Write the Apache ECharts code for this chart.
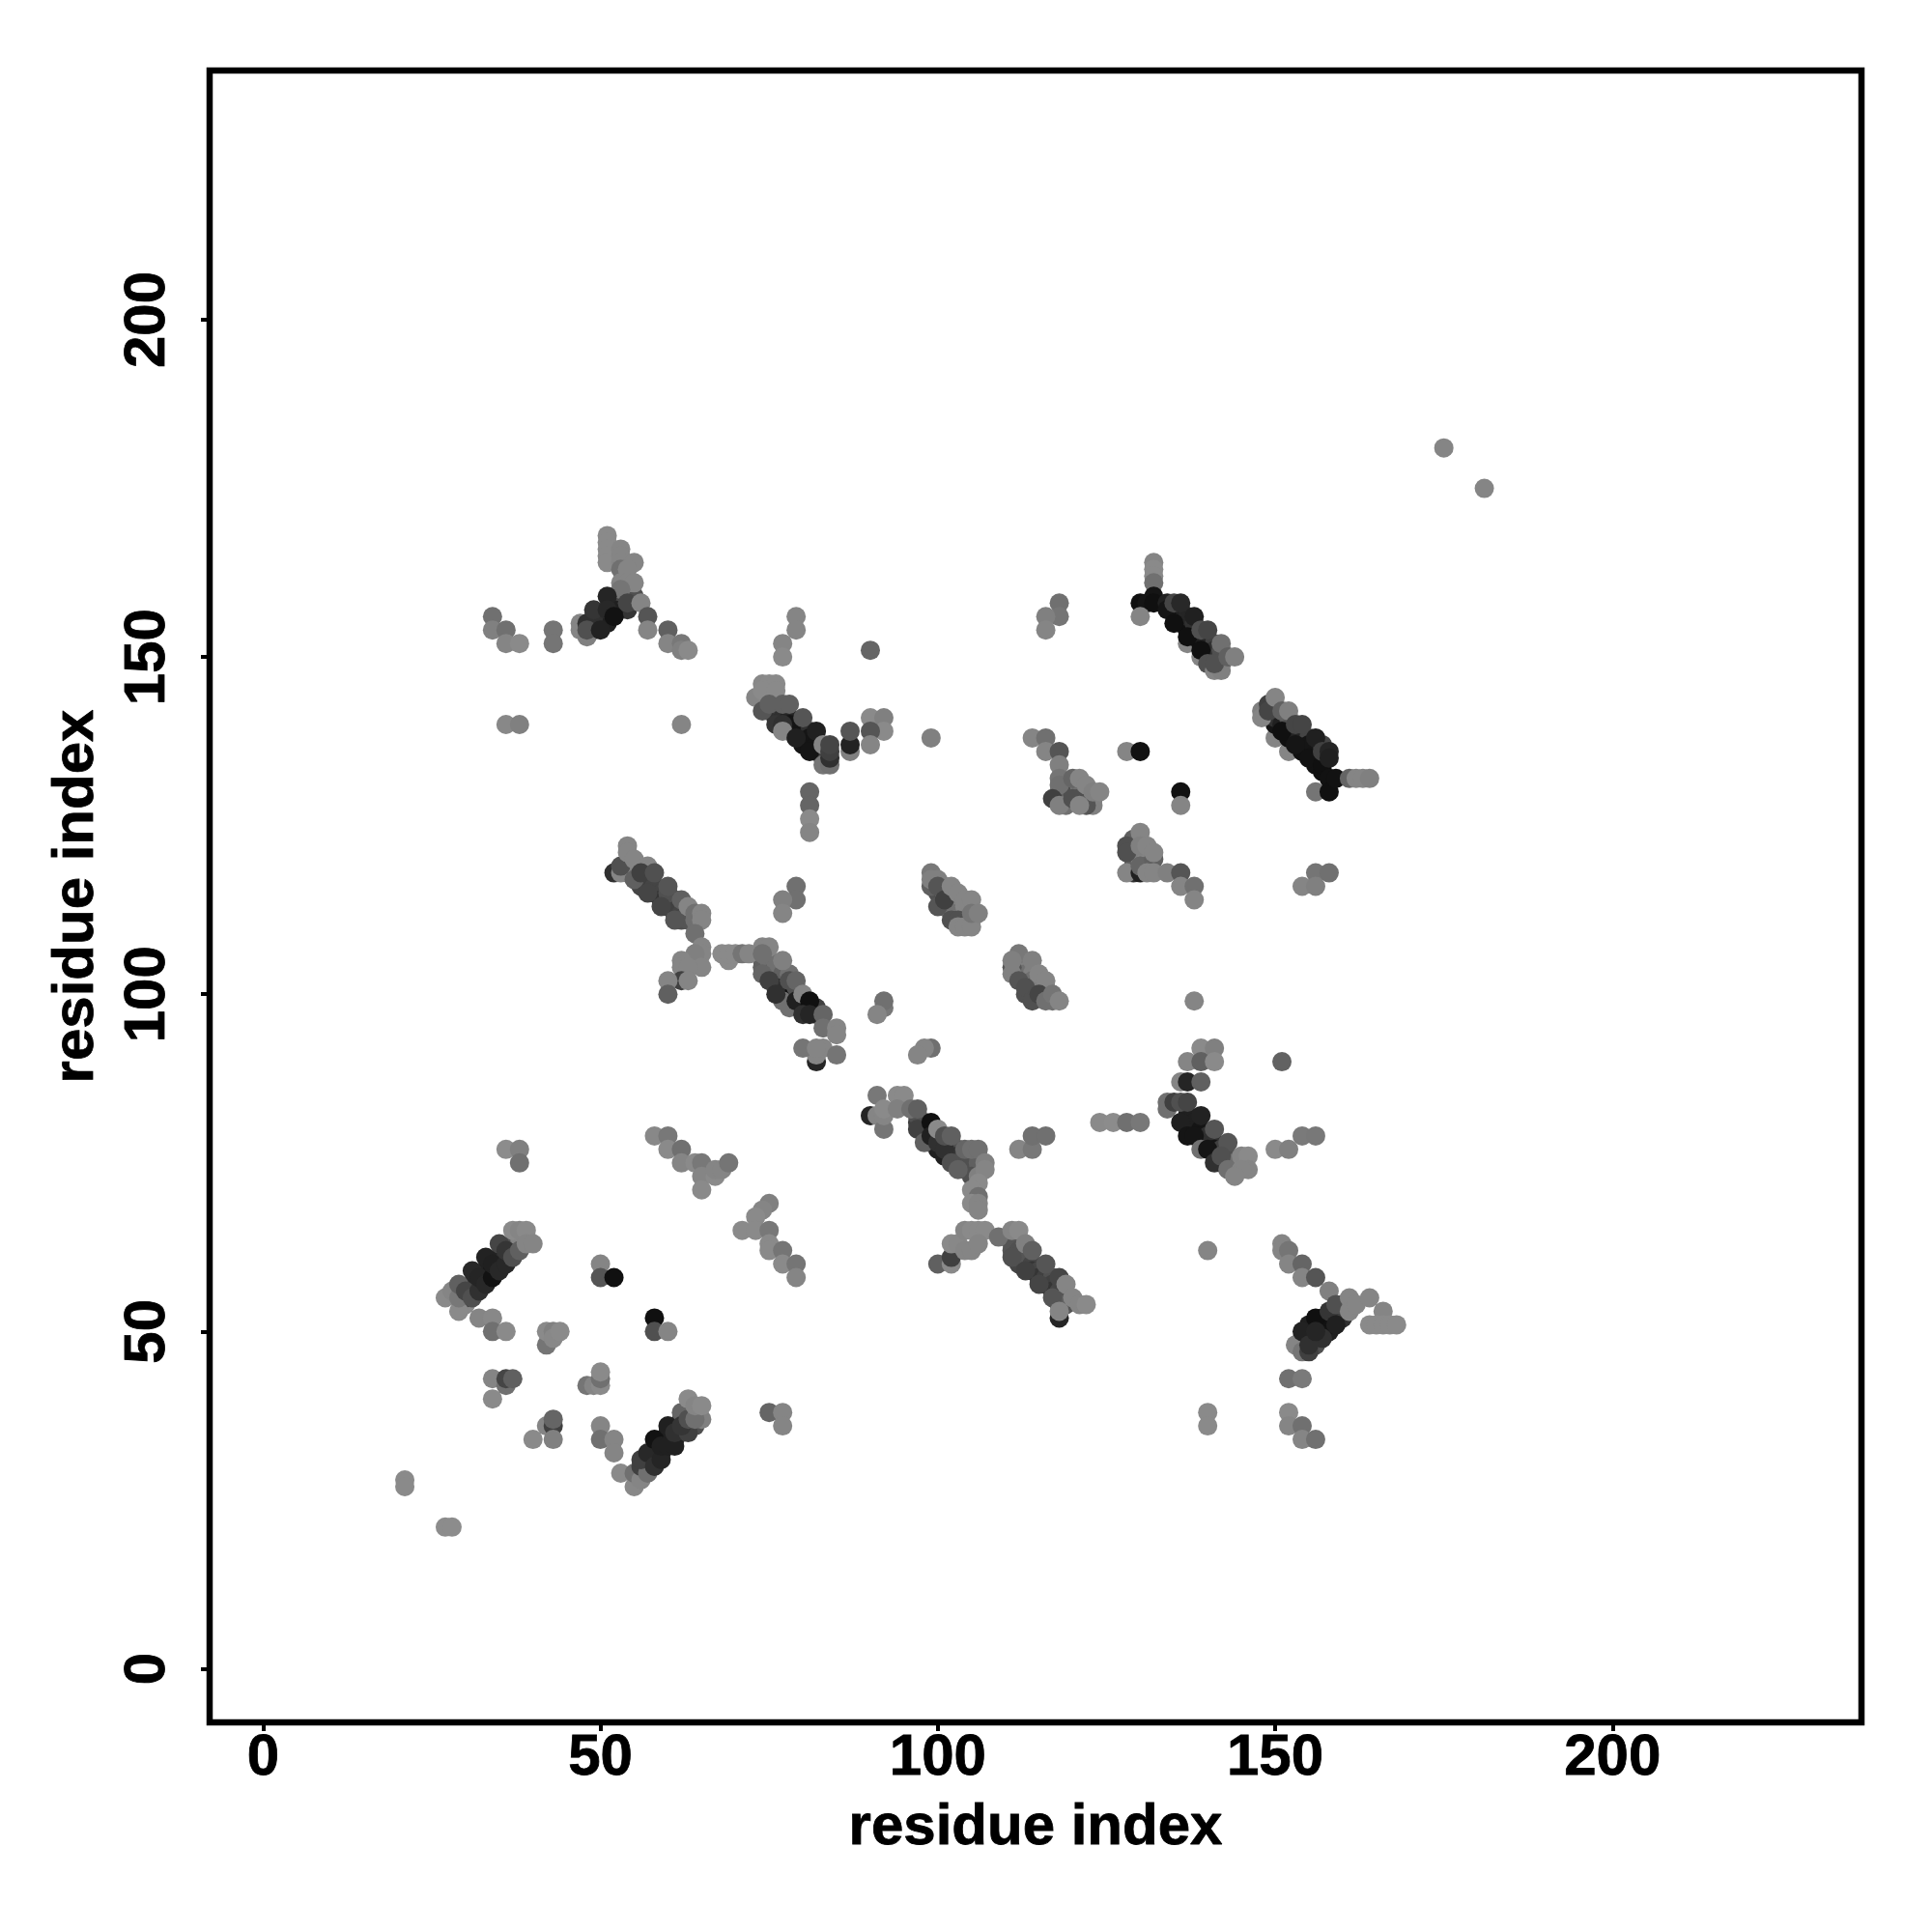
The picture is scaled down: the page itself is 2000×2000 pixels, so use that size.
<!DOCTYPE html>
<html><head><meta charset="utf-8">
<script src="https://cdn.jsdelivr.net/npm/echarts@6/dist/echarts.min.js"></script>
<style>html,body{margin:0;padding:0;background:#fff}#c{width:2000px;height:2000px}</style>
</head><body><div id="c"></div>
<script>
// each contact: [residue i, residue j, grey level 0-255]
const tickValues=[0,50,100,150,200];
const axisTitle="residue index";
const coreA=[[30,54,0x8a],[30,55,0x40],[31,56,0x30],[31,57,0x28],[32,57,0x25],[33,58,0x20],[33,59,0x22],[34,59,0x18],[35,60,0x20],[35,61,0x25],[36,61,0x30],[37,62,0x40],[37,63,0x55],[38,63,0x70],[38,64,0x85],[39,64,0x85]];
const sheetA=[[27,55,0x8a],[28,56,0x85],[29,53,0x8a],[29,55,0x78],[29,57,0x60],[30,56,0x45],[31,59,0x28],[31,55,0x50],[32,56,0x30],[32,58,0x25],[33,61,0x22],[33,57,0x28],[34,58,0x12],[34,60,0x20],[35,63,0x45],[35,59,0x28],[36,60,0x28],[36,62,0x35],[37,61,0x50],[38,62,0x60],[37,65,0x8a],[38,65,0x85],[39,65,0x8a],[39,63,0x85],[40,63,0x85]];
const smallLowLeft=[[36,77,0x8c],[38,77,0x80],[38,75,0x70],[32,52,0x85],[34,52,0x88],[34,50,0x70],[36,50,0x8a],[42,48,0x75],[42,50,0x8a],[43,50,0x80],[43,49,0x88],[44,50,0x8a],[50,60,0x85],[50,58,0x55],[52,58,0x10],[58,52,0x10],[58,50,0x50],[60,50,0x85],[34,43,0x85],[36,42,0x70],[36,43,0x45],[37,43,0x60],[34,40,0x8a],[48,42,0x75],[49,42,0x85],[50,42,0x8a],[50,43,0x70],[50,44,0x8a],[40,34,0x8a],[42,36,0x85],[43,36,0x40],[43,37,0x65],[43,34,0x80],[50,36,0x85],[50,34,0x70],[52,34,0x85],[52,32,0x85],[75,38,0x65],[77,38,0x85],[77,36,0x85],[21,28,0x8a],[21,27,0x8a],[27,21,0x8c],[28,21,0x8c]];
const coreB=[[57,30,0x40],[57,31,0x30],[58,31,0x25],[58,32,0x25],[59,32,0x20],[60,34,0x20],[60,35,0x20],[61,34,0x20],[62,35,0x30],[62,37,0x40],[63,36,0x35],[63,38,0x50],[64,36,0x50],[64,38,0x60]];
const sheetB=[[53,29,0x8a],[55,27,0x88],[55,29,0x70],[56,28,0x85],[56,30,0x40],[57,29,0x70],[56,31,0x40],[57,32,0x28],[58,30,0x30],[59,31,0x25],[58,34,0x12],[59,33,0x20],[60,33,0x20],[60,36,0x20],[61,33,0x20],[61,35,0x30],[62,38,0x65],[63,35,0x40],[62,36,0x35],[65,37,0x80],[63,37,0x50],[64,37,0x70],[63,40,0x8a],[64,39,0x85],[65,39,0x8a]];
const midLeft=[[58,79,0x88],[60,79,0x78],[60,77,0x8a],[62,77,0x70],[62,75,0x85],[64,75,0x8a],[65,75,0x78],[65,73,0x85],[65,71,0x8a],[67,73,0x8a],[67,74,0x85],[68,74,0x85],[69,75,0x75],[75,69,0x80],[74,68,0x85],[73,67,0x8a],[71,65,0x8a],[73,65,0x8a],[75,65,0x78],[75,63,0x8a],[75,62,0x8a],[77,62,0x75],[77,60,0x8a],[79,60,0x75],[79,58,0x85]];
const coreC=[[97,81,0x40],[97,82,0x50],[98,80,0x30],[98,81,0x50],[99,78,0x20],[100,77,0x20],[101,76,0x20],[102,76,0x25],[102,77,0x25],[103,75,0x25],[104,75,0x30],[104,74,0x40],[105,74,0x40],[105,75,0x50],[103,77,0x50],[103,76,0x35],[104,76,0x50],[106,75,0x60],[105,73,0x50]];
const helixC=[[91,85,0x78],[94,85,0x8a],[95,85,0x8a],[90,82,0x25],[91,82,0x85],[92,80,0x75],[92,82,0x85],[92,83,0x8a],[94,83,0x80],[96,83,0x70],[97,83,0x60],[97,80,0x40],[98,78,0x60],[99,81,0x10],[99,79,0x20],[100,78,0x30],[100,80,0x8a],[101,77,0x30],[101,79,0x50],[102,79,0x60],[102,75,0x50],[103,74,0x60],[104,77,0x65],[105,77,0x70],[106,77,0x70],[106,73,0x80],[107,75,0x80],[107,74,0x85],[106,72,0x8a],[105,71,0x8a],[106,70,0x70],[105,69,0x8a],[106,69,0x85],[106,68,0x85]];
const coreD=[[111,63,0x55],[111,62,0x55],[112,62,0x50],[112,60,0x45],[113,61,0x55],[114,60,0x45],[114,59,0x35],[115,59,0x45],[115,58,0x35],[116,58,0x40],[116,57,0x35],[117,58,0x50],[117,57,0x40],[117,56,0x35],[118,56,0x45],[118,55,0x40],[119,55,0x55],[119,54,0x55],[118,54,0x60]];
const helixD=[[100,60,0x60],[102,60,0x8a],[102,61,0x40],[102,63,0x8a],[103,63,0x88],[104,65,0x85],[105,65,0x8a],[106,65,0x8a],[107,65,0x8a],[104,62,0x85],[105,62,0x85],[106,63,0x85],[109,64,0x70],[111,61,0x50],[111,65,0x85],[112,65,0x8a],[113,59,0x40],[113,63,0x80],[114,62,0x60],[115,57,0x45],[116,60,0x55],[117,55,0x55],[118,52,0x25],[118,53,0x85],[118,58,0x45],[119,57,0x85],[120,55,0x85],[121,54,0x85],[122,54,0x8a]];
const coreRight=[[155,49,0x25],[155,50,0x30],[156,49,0x25],[156,51,0x20],[157,50,0x20],[157,51,0x15],[157,52,0x12],[158,50,0x20],[158,51,0x15],[158,52,0x12],[159,52,0x15],[159,53,0x30],[160,52,0x30],[160,53,0x40],[160,54,0x55],[155,51,0x20],[154,49,0x35],[154,48,0x50],[156,48,0x50]];
const rightLow=[[140,62,0x85],[151,63,0x85],[151,62,0x85],[152,62,0x75],[152,60,0x85],[154,60,0x65],[154,58,0x85],[156,58,0x55],[158,56,0x80],[153,48,0x85],[154,47,0x75],[155,47,0x40],[154,50,0x22],[157,49,0x30],[156,52,0x10],[155,48,0x30],[156,50,0x25],[158,53,0x35],[159,51,0x20],[159,54,0x50],[161,55,0x85],[161,53,0x85],[162,54,0x85],[164,55,0x85],[166,53,0x85],[164,51,0x8a],[165,51,0x8a],[166,51,0x8a],[167,51,0x8a],[168,51,0x8a],[152,43,0x70],[154,43,0x7a],[152,38,0x8a],[152,36,0x85],[154,36,0x70],[154,34,0x85],[156,34,0x70],[140,38,0x8a],[140,36,0x8a]];
const coreE=[[137,82,0x20],[138,81,0x20],[139,80,0x15],[139,79,0x15],[140,79,0x30],[141,78,0x30],[141,77,0x15],[142,77,0x40],[142,75,0x40],[143,76,0x50],[143,75,0x50],[144,75,0x70]];
const helixE=[[139,92,0x8a],[141,92,0x80],[137,90,0x85],[139,90,0x60],[141,90,0x8a],[151,90,0x62],[136,87,0x85],[137,87,0x25],[139,87,0x60],[134,84,0x70],[134,83,0x70],[135,84,0x40],[136,84,0x50],[137,84,0x45],[139,82,0x22],[136,81,0x20],[137,79,0x15],[138,79,0x15],[141,80,0x55],[139,77,0x70],[140,77,0x15],[143,78,0x55],[141,75,0x30],[142,76,0x50],[143,74,0x70],[145,76,0x85],[146,76,0x8a],[146,74,0x85],[145,74,0x85],[144,73,0x85],[124,81,0x8a],[126,81,0x8c],[128,81,0x70],[130,81,0x78],[150,77,0x8a],[152,77,0x80],[154,79,0x7a],[156,79,0x78],[112,77,0x85],[114,77,0x78],[114,79,0x70],[116,79,0x70]];
const coreTopLeft=[[49,155,0x28],[50,156,0x30],[50,155,0x25],[51,155,0x20],[49,154,0x30],[52,158,0x30],[53,157,0x25],[53,158,0x35],[54,157,0x35],[53,159,0x45],[54,159,0x45],[55,159,0x50],[52,157,0x20],[49,156,0x30]];
const topLeft=[[34,156,0x70],[34,154,0x80],[36,154,0x70],[36,152,0x85],[38,152,0x8a],[43,154,0x75],[43,152,0x75],[36,140,0x88],[38,140,0x80],[62,140,0x85],[51,168,0x8a],[51,167,0x8a],[51,166,0x8a],[51,165,0x8a],[51,164,0x8a],[53,166,0x85],[53,165,0x85],[53,164,0x85],[53,163,0x70],[55,164,0x85],[54,163,0x85],[53,161,0x85],[54,161,0x85],[55,161,0x85],[53,160,0x75],[54,158,0x45],[56,158,0x85],[51,159,0x25],[47,155,0x85],[47,154,0x85],[48,153,0x80],[48,155,0x30],[48,154,0x50],[49,157,0x35],[50,154,0x22],[51,157,0x28],[52,156,0x12],[57,156,0x55],[57,154,0x85],[60,154,0x60],[60,152,0x85],[62,152,0x78],[62,151,0x80],[63,151,0x8a]];
const coreTopMid=[[75,144,0x70],[75,142,0x50],[76,143,0x40],[76,142,0x40],[76,141,0x30],[77,142,0x40],[77,141,0x30],[78,141,0x25],[78,140,0x15],[78,139,0x15],[79,140,0x15],[79,139,0x15],[80,139,0x15],[80,138,0x10],[80,137,0x15],[81,139,0x30],[81,138,0x15],[81,137,0x15],[82,137,0x15],[82,136,0x15],[83,136,0x30],[83,135,0x40]];
const topMid=[[79,156,0x85],[79,154,0x85],[77,152,0x85],[77,150,0x8a],[90,151,0x65],[73,144,0x85],[74,146,0x88],[75,146,0x8a],[76,146,0x8a],[74,145,0x8a],[76,145,0x8a],[74,142,0x55],[75,143,0x60],[77,143,0x60],[78,143,0x60],[76,140,0x35],[77,140,0x30],[77,139,0x85],[79,138,0x20],[80,141,0x55],[82,139,0x20],[81,136,0x15],[83,134,0x75],[84,134,0x70],[84,135,0x30],[83,137,0x85],[84,136,0x40],[84,137,0x45],[87,136,0x80],[87,137,0x22],[87,139,0x55],[90,141,0x8a],[92,141,0x80],[92,139,0x8a],[90,139,0x55],[90,137,0x85],[81,130,0x65],[81,128,0x65],[81,126,0x8a],[81,124,0x85]];
const coreBandA=[[54,119,0x50],[54,118,0x55],[55,118,0x50],[55,119,0x80],[56,117,0x50],[56,116,0x45],[57,117,0x50],[57,116,0x40],[58,115,0x45],[58,116,0x45],[59,115,0x45],[59,114,0x35],[60,114,0x45],[60,113,0x40],[61,114,0x50],[61,113,0x40],[61,112,0x40],[62,112,0x45],[62,111,0x50],[63,112,0x50],[63,111,0x55],[64,111,0x70],[60,115,0x50]];
const midBandA=[[52,118,0x30],[53,118,0x85],[53,119,0x50],[54,122,0x85],[54,121,0x85],[55,120,0x85],[55,117,0x60],[57,119,0x85],[56,118,0x40],[57,115,0x45],[58,118,0x50],[59,113,0x45],[60,116,0x55],[61,111,0x55],[62,114,0x60],[63,113,0x85],[64,112,0x70],[65,112,0x85],[65,111,0x85],[64,109,0x70],[65,107,0x85],[65,106,0x85],[64,106,0x80],[64,105,0x80],[65,104,0x85],[62,105,0x85],[62,104,0x85],[63,104,0x85],[62,102,0x40],[63,102,0x85],[60,102,0x85],[60,100,0x60],[79,116,0x70],[79,114,0x70],[77,114,0x80],[77,112,0x85]];
const coreBandB=[[74,105,0x65],[74,104,0x60],[75,104,0x60],[75,105,0x70],[75,103,0x50],[76,103,0x50],[76,102,0x30],[76,104,0x70],[77,102,0x30],[77,101,0x20],[77,103,0x60],[78,101,0x20],[78,100,0x10],[78,103,0x70],[79,100,0x15],[79,101,0x50],[80,99,0x20],[80,98,0x10],[81,98,0x30],[82,97,0x50],[82,98,0x40],[77,99,0x70],[76,101,0x30]];
const midBandB=[[68,106,0x8a],[69,105,0x8a],[69,106,0x8a],[70,106,0x8a],[71,106,0x75],[72,106,0x85],[74,107,0x85],[75,107,0x85],[74,106,0x70],[74,103,0x65],[77,105,0x80],[75,102,0x40],[76,100,0x30],[78,98,0x70],[78,102,0x50],[79,102,0x65],[79,99,0x20],[80,100,0x85],[81,99,0x10],[80,97,0x30],[81,97,0x25],[83,97,0x65],[83,95,0x70],[85,95,0x85],[85,94,0x85],[82,90,0x25],[82,91,0x85],[83,92,0x85],[80,92,0x75],[82,92,0x85],[85,91,0x75],[92,98,0x78],[92,99,0x70],[91,97,0x85],[99,92,0x70],[98,92,0x85],[97,91,0x85]];
const coreF=[[100,115,0x50],[101,115,0x80],[101,116,0x85],[101,113,0x50],[102,113,0x60],[102,114,0x70],[103,114,0x80],[103,113,0x80],[103,112,0x80],[104,112,0x70],[104,111,0x60],[102,112,0x70],[105,111,0x80],[104,113,0x85]];
const clusterF=[[99,116,0x60],[99,118,0x78],[99,117,0x80],[100,117,0x80],[100,113,0x55],[100,116,0x55],[101,114,0x40],[102,116,0x85],[103,115,0x85],[102,111,0x50],[103,111,0x50],[104,114,0x85],[105,114,0x85],[103,110,0x85],[104,110,0x85],[105,110,0x85],[105,112,0x75],[106,112,0x80]];
const coreG=[[112,104,0x78],[112,103,0x60],[113,104,0x80],[113,103,0x70],[113,102,0x70],[114,103,0x80],[114,102,0x70],[114,101,0x55],[115,101,0x60],[115,102,0x80],[116,101,0x80],[116,100,0x70],[117,99,0x70],[113,100,0x50]];
const clusterG=[[111,104,0x55],[112,106,0x78],[111,105,0x80],[111,103,0x80],[112,102,0x55],[113,101,0x50],[114,105,0x80],[115,103,0x85],[116,102,0x85],[114,99,0x50],[115,100,0x45],[116,99,0x70],[117,100,0x75],[118,99,0x85],[138,99,0x85]];
const coreH=[[129,122,0x70],[129,121,0x60],[129,120,0x60],[129,119,0x60],[130,120,0x80],[130,121,0x80],[131,121,0x85],[131,120,0x85],[131,119,0x70],[129,118,0x30]];
const clusterH=[[128,118,0x85],[130,118,0x20],[129,123,0x60],[128,122,0x50],[128,121,0x50],[130,119,0x65],[130,124,0x85],[130,122,0x80],[131,122,0x85],[132,120,0x60],[132,121,0x85],[131,118,0x85],[132,118,0x85],[134,118,0x80],[136,118,0x55],[136,116,0x85],[138,116,0x70],[138,114,0x85],[154,116,0x85],[156,118,0x75],[156,116,0x80],[158,118,0x70]];
const coreTop=[[137,152,0x85],[139,150,0x85],[135,157,0x10],[136,155,0x10],[137,155,0x10],[138,153,0x10],[139,152,0x10],[140,151,0x10],[141,150,0x20],[142,149,0x40],[136,156,0x15],[137,154,0x10],[136,157,0x20],[137,156,0x25],[138,155,0x30],[139,153,0x20],[140,152,0x25],[141,152,0x40],[141,151,0x30],[142,151,0x50],[142,150,0x50]];
const sheetTop=[[132,164,0x85],[132,163,0x8a],[132,162,0x8a],[132,161,0x70],[132,159,0x15],[130,158,0x10],[131,158,0x15],[132,158,0x10],[130,156,0x85],[134,158,0x20],[134,157,0x15],[135,155,0x10],[135,158,0x45],[136,158,0x28],[137,153,0x10],[138,156,0x20],[139,151,0x10],[139,154,0x50],[140,154,0x45],[140,149,0x50],[141,148,0x85],[142,148,0x80],[141,149,0x50],[142,152,0x70],[143,150,0x60],[144,150,0x80]];
const coreRightTop=[[150,138,0x85],[152,136,0x85],[150,140,0x15],[152,139,0x10],[152,138,0x10],[154,137,0x10],[154,136,0x10],[156,135,0x10],[156,136,0x15],[157,135,0x12],[150,141,0x30],[151,140,0x20],[152,141,0x50],[153,139,0x25],[155,138,0x45],[155,137,0x15],[157,137,0x45],[156,134,0x12],[157,133,0x10]];
const sheetRight=[[148,142,0x80],[148,141,0x85],[149,143,0x40],[149,142,0x45],[150,144,0x85],[151,139,0x10],[151,142,0x60],[152,142,0x80],[153,137,0x15],[153,140,0x45],[154,140,0x45],[155,135,0x12],[156,138,0x20],[157,134,0x10],[157,136,0x40],[158,136,0x25],[158,135,0x20],[156,130,0x75],[158,132,0x12],[158,130,0x10],[159,132,0x12],[161,132,0x65],[162,132,0x85],[163,132,0x85],[164,132,0x80]];
const coreI=[[118,130,0x75],[119,131,0x70],[119,130,0x60],[119,129,0x60],[119,128,0x70],[120,131,0x85],[120,130,0x50],[121,131,0x85],[121,130,0x70],[121,129,0x40],[122,130,0x60],[122,129,0x50],[123,129,0x70],[123,128,0x80]];
const clusterI=[[114,138,0x85],[116,138,0x70],[116,136,0x85],[118,136,0x55],[118,134,0x80],[118,132,0x75],[118,131,0x70],[117,129,0x40],[118,128,0x80],[120,132,0x65],[120,129,0x50],[122,128,0x55],[121,128,0x85],[121,132,0x85],[122,131,0x85],[123,130,0x80],[124,130,0x85],[128,136,0x85],[130,136,0x12],[136,130,0x12],[136,128,0x85],[118,158,0x70],[118,156,0x75],[116,156,0x80],[116,154,0x85],[99,138,0x80],[175,181,0x85],[181,175,0x85]];
const clusters=[coreA,sheetA,smallLowLeft,coreB,sheetB,midLeft,coreC,helixC,coreD,helixD,coreRight,rightLow,coreE,helixE,coreTopLeft,topLeft,coreTopMid,topMid,coreBandA,midBandA,coreBandB,midBandB,coreF,clusterF,coreG,clusterG,coreH,clusterH,coreTop,sheetTop,coreRightTop,sheetRight,coreI,clusterI];
const contacts=clusters.flat();

const font='"Liberation Sans"';
const label={fontFamily:font,fontWeight:'bold',fontSize:60,color:'#000',textBorderColor:'#000',textBorderWidth:0.8};
function axis(extra){return Object.assign({
 type:'value',name:axisTitle,nameLocation:'middle',
 nameTextStyle:label,splitLine:{show:false},axisLine:{show:false,onZero:false},
 axisTick:{show:true,length:9,lineStyle:{color:'#000',width:4},customValues:tickValues},
},extra);}
const chart=echarts.init(document.getElementById('c'),null,{renderer:'canvas'});
chart.setOption({
 animation:false,backgroundColor:'#fff',
 grid:{show:true,left:217,top:73,width:1710,height:1710,borderColor:'#000',borderWidth:6.5,backgroundColor:'#fff'},
 xAxis:axis({min:-7.93,max:236.9,nameGap:79,axisLabel:Object.assign({},label,{margin:7,customValues:tickValues})}),
 yAxis:axis({min:-7.95,max:236.95,nameGap:108,axisLabel:Object.assign({},label,{rotate:90,margin:34,customValues:tickValues})}),
 series:[{type:'scatter',symbol:'circle',symbolSize:20,z:1,clip:true,
  data:contacts.map(c=>({value:[c[0],c[1]],itemStyle:{color:`rgb(${c[2]},${c[2]},${c[2]})`,opacity:1}}))}]
});
</script></body></html>
